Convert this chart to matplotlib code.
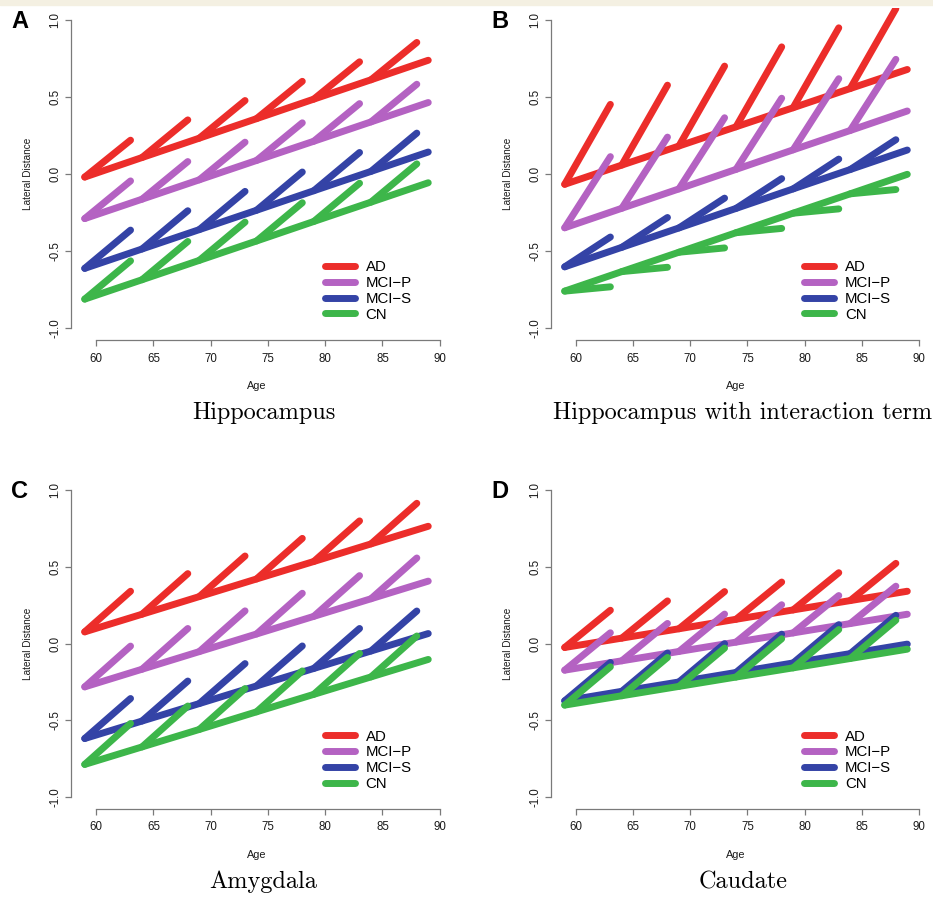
import matplotlib
matplotlib.use('Agg')
import matplotlib.pyplot as plt
from matplotlib.patches import Rectangle

plt.rcParams['font.family'] = ['Liberation Sans', 'DejaVu Sans']

# groups and colours
groups = ['AD', 'MCI-P', 'MCI-S', 'CN']
legend_labels = ['AD', 'MCI\u2212P', 'MCI\u2212S', 'CN']
colors = ['#EC2D2A', '#B462C2', '#3443A6', '#3DB64A']

# cross-sectional line read at these ages
ages = [59, 64, 69, 74, 79, 84, 89]
# longitudinal segments: start age -> end age
seg_from = [59, 64, 69, 74, 79, 84]
seg_to = [63, 68, 73, 78, 83, 88]

# A: Hippocampus
hippo_cross = {
    'AD':    [-0.02, 0.107, 0.233, 0.36, 0.487, 0.613, 0.74],
    'MCI-P': [-0.29, -0.164, -0.038, 0.088, 0.213, 0.339, 0.465],
    'MCI-S': [-0.614, -0.488, -0.362, -0.236, -0.109, 0.017, 0.143],
    'CN':    [-0.814, -0.688, -0.562, -0.436, -0.309, -0.183, -0.057],
}
hippo_tips = {
    'AD':    [0.22, 0.352, 0.478, 0.603, 0.73, 0.856],
    'MCI-P': [-0.045, 0.081, 0.207, 0.333, 0.458, 0.584],
    'MCI-S': [-0.365, -0.239, -0.113, 0.013, 0.14, 0.266],
    'CN':    [-0.565, -0.439, -0.313, -0.187, -0.06, 0.066],
}

# B: Hippocampus with interaction term
inter_cross = {
    'AD':    [-0.067, 0.058, 0.182, 0.307, 0.431, 0.556, 0.68],
    'MCI-P': [-0.35, -0.223, -0.097, 0.03, 0.157, 0.283, 0.41],
    'MCI-S': [-0.604, -0.477, -0.351, -0.224, -0.097, 0.029, 0.156],
    'CN':    [-0.762, -0.635, -0.509, -0.382, -0.255, -0.129, -0.002],
}
inter_tips = {
    'AD':    [0.453, 0.578, 0.702, 0.827, 0.951, 1.076],
    'MCI-P': [0.113, 0.24, 0.366, 0.493, 0.62, 0.746],
    'MCI-S': [-0.41, -0.283, -0.157, -0.03, 0.097, 0.223],
    'CN':    [-0.734, -0.607, -0.481, -0.354, -0.227, -0.101],
}

# C: Amygdala
amyg_cross = {
    'AD':    [0.076, 0.191, 0.306, 0.421, 0.535, 0.65, 0.765],
    'MCI-P': [-0.283, -0.168, -0.053, 0.062, 0.177, 0.292, 0.407],
    'MCI-S': [-0.62, -0.506, -0.392, -0.277, -0.163, -0.049, 0.065],
    'CN':    [-0.789, -0.675, -0.561, -0.446, -0.332, -0.218, -0.104],
}
amyg_tips = {
    'AD':    [0.341, 0.456, 0.571, 0.686, 0.80, 0.915],
    'MCI-P': [-0.017, 0.098, 0.213, 0.328, 0.443, 0.558],
    'MCI-S': [-0.359, -0.245, -0.131, -0.016, 0.098, 0.212],
    'CN':    [-0.522, -0.408, -0.294, -0.179, -0.065, 0.049],
}

# D: Caudate
caud_cross = {
    'AD':    [-0.026, 0.035, 0.096, 0.158, 0.219, 0.28, 0.341],
    'MCI-P': [-0.174, -0.113, -0.052, 0.009, 0.069, 0.13, 0.191],
    'MCI-S': [-0.374, -0.312, -0.251, -0.189, -0.127, -0.066, -0.004],
    'CN':    [-0.402, -0.341, -0.28, -0.219, -0.159, -0.098, -0.037],
}
caud_tips = {
    'AD':    [0.217, 0.278, 0.339, 0.401, 0.462, 0.523],
    'MCI-P': [0.07, 0.131, 0.192, 0.253, 0.313, 0.374],
    'MCI-S': [-0.124, -0.062, -0.001, 0.061, 0.123, 0.184],
    'CN':    [-0.152, -0.091, -0.03, 0.031, 0.091, 0.152],
}

W, H = 933, 902
fig = plt.figure(figsize=(W / 100, H / 100), dpi=100)
fig.add_artist(Rectangle((0, 1 - 5 / H), 1, 5 / H, transform=fig.transFigure,
                         color='#F4F0E2', zorder=0))

panels = [
    ('A', 'Hippocampus', hippo_cross, hippo_tips, (71, 8, 442, 340)),
    ('B', 'Hippocampus with interaction term', inter_cross, inter_tips, (551, 8, 921, 340)),
    ('C', 'Amygdala', amyg_cross, amyg_tips, (71, 478, 442, 809)),
    ('D', 'Caudate', caud_cross, caud_tips, (551, 478, 921, 809)),
]

axis_grey = '#7A7A7A'
lw = 5.0

for letter, title, cross, tips, (l, t, r, b) in panels:
    ax = fig.add_axes([l / W, 1 - b / H, (r - l) / W, (b - t) / H])
    handles = []
    for g, c in zip(groups, colors):
        h, = ax.plot(ages, cross[g], color=c, lw=lw, solid_capstyle='round')
        handles.append(h)
        for i in range(len(seg_from)):
            ax.plot([seg_from[i], seg_to[i]], [cross[g][i], tips[g][i]],
                    color=c, lw=lw, solid_capstyle='round')

    ax.set_xlim(57.8, 90.2)
    ax.set_ylim(-1.08, 1.08)
    ax.set_xticks([60, 65, 70, 75, 80, 85, 90])
    ax.set_yticks([-1.0, -0.5, 0.0, 0.5, 1.0])
    ax.set_yticklabels(['-1.0', '-0.5', '0.0', '0.5', '1.0'], rotation=90, va='center')
    for s in ['top', 'right']:
        ax.spines[s].set_visible(False)
    ax.spines['left'].set_bounds(-1.0, 1.0)
    ax.spines['bottom'].set_bounds(60, 90)
    for s in ['left', 'bottom']:
        ax.spines[s].set_color(axis_grey)
        ax.spines[s].set_linewidth(0.9)
    ax.tick_params(direction='out', length=4, width=0.9, color=axis_grey,
                   labelsize=8.3, labelcolor='#1a1a1a')
    ax.tick_params(axis='x', pad=5)
    ax.tick_params(axis='y', pad=3)
    ax.patch.set_visible(False)

    ax.text(0.5, -0.1386, 'Age', transform=ax.transAxes, ha='center', va='center',
            fontsize=7.8, color='#1a1a1a')
    ax.text(-0.116, 0.5, 'Lateral Distance', transform=ax.transAxes, ha='center',
            va='center', rotation=90, fontsize=7.2, color='#1a1a1a')

    ax.legend(handles, legend_labels, loc='upper left', bbox_to_anchor=(0.685, 0.24),
              frameon=False, fontsize=10.8, handlelength=2.0, handletextpad=0.7,
              labelspacing=0.12, borderpad=0, borderaxespad=0)

    # panel letter and region title
    fig.text((l - 51) / W, 1 - (t + 13) / H, letter, ha='center', va='center',
             fontsize=17, fontweight='bold')
    fig.text(((l + r) / 2 + 7) / W, 1 - (b + 73) / H, title, ha='center', va='center',
             fontsize=17.5, family='cmr10')

fig.savefig('out.png', dpi=100)
